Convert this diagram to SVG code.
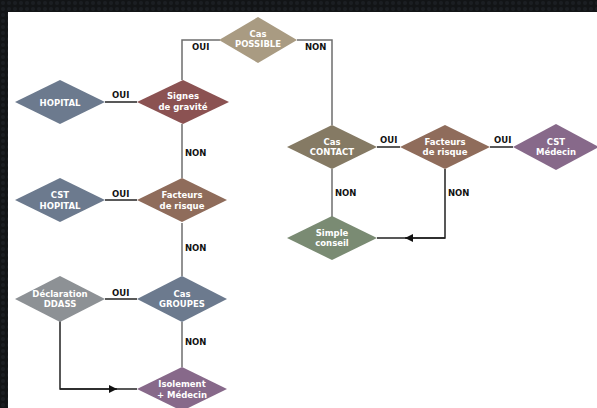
<svg xmlns="http://www.w3.org/2000/svg" width="597" height="408" viewBox="0 0 597 408">
  <defs>
    <pattern id="dots" width="6" height="6" patternUnits="userSpaceOnUse">
      <rect width="6" height="6" fill="#121416"/>
      <circle cx="3" cy="3" r="2" fill="#1b1e22"/>
    </pattern>
    <marker id="tri" viewBox="0 0 8 8" refX="8" refY="4" markerWidth="8" markerHeight="8" markerUnits="userSpaceOnUse" orient="auto">
      <path d="M0,0 L8,4 L0,8 Z" fill="#111"/>
    </marker>
    <style>
      .stem { stroke: #6e6e6e; stroke-width: 1.5; fill: none; }
      .link { stroke: #222; stroke-width: 1.5; fill: none; }
      .lbl { font-family: "DejaVu Sans", Verdana, sans-serif; font-weight: bold; font-size: 8.5px; fill: #111; }
      .txt { font-family: "DejaVu Sans", Verdana, sans-serif; font-weight: bold; font-size: 8.5px; fill: #fff; text-anchor: middle; }
      .tan { fill: #a99b82; }
      .slate { fill: #6c7a8e; }
      .maroon { fill: #8b5252; }
      .brown { fill: #8f6c5b; }
      .grey { fill: #8d9195; }
      .purple { fill: #87698a; }
      .olive { fill: #857a64; }
      .sage { fill: #7a8b73; }
    </style>
  </defs>

  <!-- frame -->
  <rect width="597" height="408" fill="url(#dots)"/>
  <rect x="8" y="12" width="589" height="396" fill="#fff"/>

  <!-- connectors -->
  <g id="connectors">
    <path class="stem" d="M220,40 H182 V80"/>
    <path class="stem" d="M297,40 H332 V125"/>
    <path class="link" d="M105,102 H137"/>
    <path class="stem" d="M182,124 V178"/>
    <path class="link" d="M105,200 H137"/>
    <path class="stem" d="M182,223 V276"/>
    <path class="link" d="M105,299 H137"/>
    <path class="stem" d="M182,322 V367"/>
    <path class="link" d="M60,321 V389 H137"/>
    <path class="link" d="M60,389 H117" marker-end="url(#tri)"/>
    <path class="link" d="M377,147 H400"/>
    <path class="link" d="M490,147 H513"/>
    <path class="stem" d="M332,169 V217"/>
    <path class="link" d="M445,169 V238 H377"/>
    <path class="link" d="M445,238 H405" marker-end="url(#tri)"/>

    <text class="lbl" x="192" y="50">OUI</text>
    <text class="lbl" x="305" y="50">NON</text>
    <text class="lbl" x="112" y="98">OUI</text>
    <text class="lbl" x="112" y="197">OUI</text>
    <text class="lbl" x="112" y="296">OUI</text>
    <text class="lbl" x="185" y="156">NON</text>
    <text class="lbl" x="185" y="251">NON</text>
    <text class="lbl" x="185" y="345">NON</text>
    <text class="lbl" x="380" y="143">OUI</text>
    <text class="lbl" x="494" y="143">OUI</text>
    <text class="lbl" x="335" y="196">NON</text>
    <text class="lbl" x="448" y="196">NON</text>
  </g>

  <g id="cas-possible">
    <polygon class="tan" points="258,17 297,40 258,63 219,40"/>
    <text class="txt" x="258" y="37">Cas</text>
    <text class="txt" x="258" y="47">POSSIBLE</text>
  </g>

  <g id="hopital">
    <polygon class="slate" points="60,80 105,102 60,124 15,102"/>
    <text class="txt" x="60" y="106">HOPITAL</text>
  </g>

  <g id="signes-gravite">
    <polygon class="maroon" points="183,80 229,102 183,124 137,102"/>
    <text class="txt" x="183" y="99">Signes</text>
    <text class="txt" x="183" y="110">de gravité</text>
  </g>

  <g id="cst-hopital">
    <polygon class="slate" points="60,178 105,200 60,222 15,200"/>
    <text class="txt" x="60" y="198">CST</text>
    <text class="txt" x="60" y="209">HOPITAL</text>
  </g>

  <g id="facteurs-risque-gauche">
    <polygon class="brown" points="182,178 227,200 182,222 137,200"/>
    <text class="txt" x="182" y="198">Facteurs</text>
    <text class="txt" x="182" y="209">de risque</text>
  </g>

  <g id="declaration-ddass">
    <polygon class="grey" points="60,276 105,299 60,322 15,299"/>
    <text class="txt" x="60" y="297">Déclaration</text>
    <text class="txt" x="60" y="307">DDASS</text>
  </g>

  <g id="cas-groupes">
    <polygon class="slate" points="182,276 227,299 182,322 137,299"/>
    <text class="txt" x="182" y="297">Cas</text>
    <text class="txt" x="182" y="307">GROUPES</text>
  </g>

  <g id="isolement-medecin">
    <polygon class="purple" points="182,367 227,389 182,411 137,389"/>
    <text class="txt" x="182" y="387">Isolement</text>
    <text class="txt" x="182" y="398">+ Médecin</text>
  </g>

  <g id="cas-contact">
    <polygon class="olive" points="332,125 377,147 332,169 287,147"/>
    <text class="txt" x="332" y="145">Cas</text>
    <text class="txt" x="332" y="155">CONTACT</text>
  </g>

  <g id="facteurs-risque-droite">
    <polygon class="brown" points="445,125 490,147 445,169 400,147"/>
    <text class="txt" x="445" y="145">Facteurs</text>
    <text class="txt" x="445" y="155">de risque</text>
  </g>

  <g id="cst-medecin">
    <polygon class="purple" points="556,124 599,147 556,170 513,147"/>
    <text class="txt" x="556" y="145">CST</text>
    <text class="txt" x="556" y="155">Médecin</text>
  </g>

  <g id="simple-conseil">
    <polygon class="sage" points="332,216 377,238 332,260 287,238"/>
    <text class="txt" x="332" y="236">Simple</text>
    <text class="txt" x="332" y="246">conseil</text>
  </g>
</svg>
